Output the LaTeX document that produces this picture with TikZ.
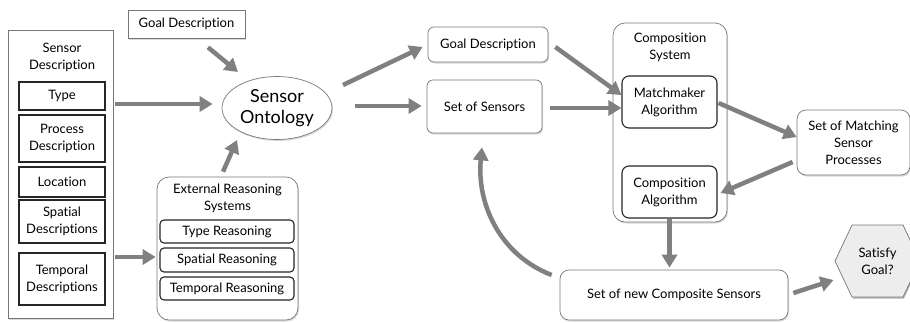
\documentclass[tikz,border=0pt]{standalone}
\usepackage{fontspec}
\setmainfont{Lato}[Ligatures={NoCommon}]
\usetikzlibrary{shapes.geometric,arrows.meta,calc,shadows}
\definecolor{arrgray}{HTML}{808080}
\definecolor{boxgray}{HTML}{777777}
\definecolor{hexfill}{HTML}{EDEDED}
\tikzset{
  txt/.style={font=\fontsize{13}{17}\selectfont, align=center, inner sep=0pt},
  shad/.style={drop shadow={opacity=0.3, shadow xshift=1pt, shadow yshift=-1.5pt}},
  squarebox/.style={txt, draw=boxgray, line width=0.7pt, fill=white, shad},
  roundbox/.style={txt, draw=boxgray, line width=0.7pt, fill=white, rounded corners=6pt, shad},
  bigbox/.style={draw=boxgray, line width=0.7pt, fill=white, rounded corners=12pt, shad, inner sep=0pt},
  innersq/.style={txt, draw=black!85, line width=1.1pt, fill=white},
  innerrd/.style={txt, draw=black!85, line width=1.1pt, fill=white, rounded corners=4pt},
  innermm/.style={txt, draw=black!85, line width=1.1pt, fill=white, rounded corners=7pt},
  arr/.style={draw=arrgray, line width=4.5pt, -{Triangle[length=13pt,width=15pt]}},
}
\begin{document}
\begin{tikzpicture}[x=1pt,y=-1pt]
\useasboundingbox (0,0) rectangle (910,322);

% Sensor description
\node[squarebox, minimum width=105pt, minimum height=288pt] (sd) at (60.5,174) {};
\node[txt] (sdt) at (62,57) {Sensor\\Description};
\node[innersq, minimum width=86pt, minimum height=28pt] (type) at (62,96) {Type};
\node[innersq, minimum width=86pt, minimum height=47pt] (proc) at (62,138.5) {Process\\Description};
\node[innersq, minimum width=86pt, minimum height=30pt] (loc) at (62,182) {Location};
\node[innersq, minimum width=86pt, minimum height=43pt] (spat) at (62,221.5) {Spatial\\Descriptions};
\node[innersq, minimum width=86pt, minimum height=52pt] (temp) at (62,279) {Temporal\\Descriptions};

% Goal description (left)
\node[squarebox, minimum width=117pt, minimum height=28pt] (goalA) at (186.5,24) {Goal Description};

% Ontology
\node[draw=boxgray, line width=0.7pt, fill=white, ellipse, shad, minimum width=110pt, minimum height=63pt, inner sep=0pt,
      font=\fontsize{18}{21}\selectfont, align=center] (onto) at (277,108) {Sensor\\Ontology};

% External reasoning systems
\node[bigbox, minimum width=141pt, minimum height=143pt] (ext) at (227.5,248.5) {};
\node[txt] (extt) at (227.5,198) {External Reasoning\\Systems};
\node[innerrd, minimum width=134pt, minimum height=23pt] (tr) at (227,231.5) {Type Reasoning};
\node[innerrd, minimum width=134pt, minimum height=24pt] (sr) at (227,260) {Spatial Reasoning};
\node[innerrd, minimum width=134pt, minimum height=23pt] (tpr) at (227,288.5) {Temporal Reasoning};

% Middle column
\node[roundbox, minimum width=120pt, minimum height=35pt] (goalB) at (488,44.5) {Goal Description};
\node[roundbox, minimum width=115pt, minimum height=53pt] (sos) at (484.5,106.5) {Set of Sensors};

% Composition system
\node[bigbox, minimum width=114pt, minimum height=199pt] (cs) at (670,122.5) {};
\node[txt] (cst) at (670,47.5) {Composition\\System};
\node[innermm, minimum width=95pt, minimum height=52pt] (mm) at (669.5,102) {Matchmaker\\Algorithm};
\node[innermm, minimum width=95pt, minimum height=52pt] (ca) at (669.5,192) {Composition\\Algorithm};

% Right side
\node[roundbox, minimum width=113pt, minimum height=65pt, rounded corners=9pt] (smsp) at (853.5,142.5) {Set of Matching\\Sensor\\Processes};
\node[roundbox, minimum width=228pt, minimum height=50pt, rounded corners=9pt] (nc) at (674,295) {Set of new Composite Sensors};

% Satisfy goal hexagon
\node[txt] (sg) at (877.5,261) {};
\fill[black, opacity=0.3] ($(sg)+(-41.5,1.5)$) -- ($(sg)+(-24.5,-34.5)$) -- ($(sg)+(26.5,-34.5)$) -- ($(sg)+(43.5,1.5)$) -- ($(sg)+(26.5,37.5)$) -- ($(sg)+(-24.5,37.5)$) -- cycle;
\draw[boxgray, line width=0.7pt, fill=hexfill] ($(sg)+(-42.5,0)$) -- ($(sg)+(-25.5,-36)$) -- ($(sg)+(25.5,-36)$) -- ($(sg)+(42.5,0)$) -- ($(sg)+(25.5,36)$) -- ($(sg)+(-25.5,36)$) -- cycle;
\node[txt] at (sg) {Satisfy\\Goal?};

% Arrows
\draw[arr] ($(goalA.south)+(21.5,9)$) -- ($(onto.center)+(-39,-36)$);
\draw[arr] ($(sd.east)+(2,-70)$) -- ($(onto.west)+(-9,-4)$);
\draw[arr] ($(ext.north)+(-4.5,-5)$) -- ($(onto.center)+(-40,32)$);
\draw[arr] ($(sd.east)+(2,83)$) -- ($(ext.west)+(-1,8.5)$);
\draw[arr] ($(onto.center)+(66,-23)$) -- ($(goalB.west)+(-5,2.5)$);
\draw[arr] ($(onto.east)+(23,-2)$) -- ($(sos.west)+(-5,-0.5)$);
\draw[arr] ($(goalB.east)+(7,2.5)$) -- ($(mm.west)+(0,-7)$);
\draw[arr] ($(sos.east)+(8,1.5)$) -- ($(mm.west)+(0,6)$);
\draw[arr] ($(mm.east)+(1,1)$) -- ($(smsp.west)+(0,-5.5)$);
\draw[arr] ($(smsp.west)+(-4,19.5)$) -- ($(ca.east)+(3,1)$);
\draw[arr] (ca.south) -- ($(ca.south |- nc.north)+(0,-2)$);
\draw[arr] ($(nc.east)+(5,-2)$) -- ($(sg)+(-44,19)$);
\draw[arr] ($(nc.west)+(-8,-20)$) .. controls ($(nc.west)+(-60,-40)$) and ($(sos.south)+(-8,70)$) .. ($(sos.south)+(-2.5,14)$);
\end{tikzpicture}
\end{document}
